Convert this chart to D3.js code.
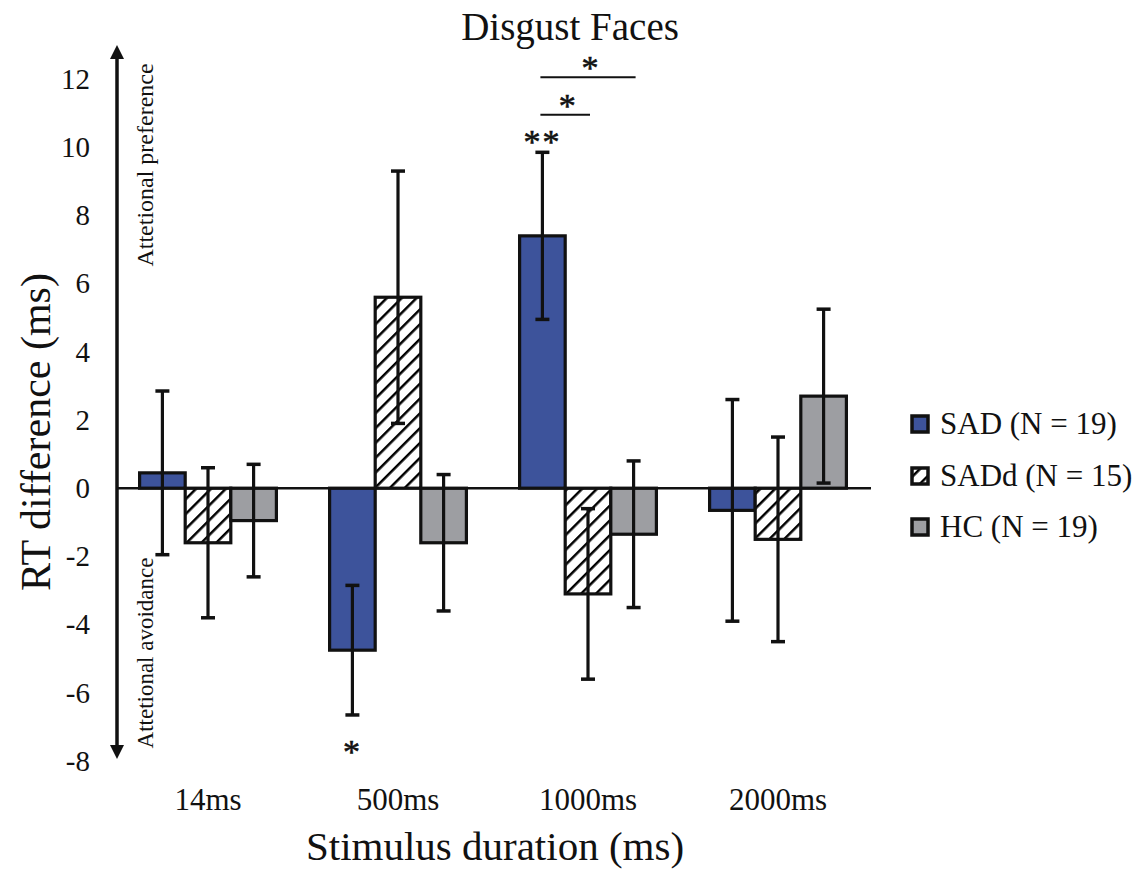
<!DOCTYPE html>
<html>
<head>
<meta charset="utf-8">
<script src="https://cdn.jsdelivr.net/npm/d3@7"></script>
<style>
  body { margin: 0; background: #fff; }
  text { font-family: "Liberation Serif", "Times New Roman", serif; fill: #111; }
</style>
</head>
<body>
<svg id="chart" width="1146" height="870"></svg>
<script>
// chart values
var categories = ['14ms', '500ms', '1000ms', '2000ms'];
var groups = ['SAD', 'SADd', 'HC'];
var groupLabels = ['SAD (N = 19)', 'SADd (N = 15)', 'HC (N = 19)'];
var sadMeans = [0.45, -4.75, 7.4, -0.65];
var sadddMeans = [-1.6, 5.6, -3.1, -1.5];
var hcMeans = [-0.95, -1.6, -1.35, 2.7];
var sadErr = [2.4, 1.9, 2.45, 3.25];
var saddErr = [2.2, 3.7, 2.5, 3.0];
var hcErr = [1.65, 2.0, 2.15, 2.55];
var yTicks = [-8, -6, -4, -2, 0, 2, 4, 6, 8, 10, 12];
// significance marks: [category, from group, to group, y value, label]
var sigBrackets = [
  ['1000ms', 0, 1, 10.95, '*'],
  ['1000ms', 0, 2, 12.05, '*']
];
// single stars: [category, group, y value, label]
var sigStars = [
  ['1000ms', 0, 10.25, '**'],
  ['500ms', 0, -7.65, '*']
];

var means = [sadMeans, sadddMeans, hcMeans];
var errs = [sadErr, saddErr, hcErr];
var data = [];
categories.forEach(function (c, ci) {
  groups.forEach(function (g, gi) {
    data.push({ cat: c, group: g, value: means[gi][ci], err: errs[gi][ci] });
  });
});

var svg = d3.select('#chart');
var colors = { SAD: '#3d539b', SADd: 'url(#hatch)', HC: '#9d9ea2' };

// hatch pattern for SADd
var defs = svg.append('defs');
var pat = defs.append('pattern')
  .attr('id', 'hatch')
  .attr('patternUnits', 'userSpaceOnUse')
  .attr('width', 10.5).attr('height', 10.5)
  .attr('patternTransform', 'rotate(45)');
pat.append('rect').attr('width', 10.5).attr('height', 10.5).attr('fill', '#fff');
pat.append('line')
  .attr('x1', 0).attr('y1', 0).attr('x2', 0).attr('y2', 10.5)
  .attr('stroke', '#000').attr('stroke-width', 5);

defs.append('marker')
  .attr('id', 'arrow')
  .attr('viewBox', '0 0 10 10')
  .attr('refX', 5).attr('refY', 5)
  .attr('markerWidth', 4).attr('markerHeight', 6)
  .attr('markerUnits', 'strokeWidth')
  .attr('orient', 'auto-start-reverse')
  .append('path')
  .attr('d', 'M0,0 L10,5 L0,10 Z')
  .attr('fill', '#111');

// scales
var yScale = d3.scaleLinear().domain([-8, 12]).range([761, 79]);
var xScale = d3.scaleBand().domain(categories).range([113, 873]).paddingInner(0.28).paddingOuter(0.14);
var xSub = d3.scaleBand().domain(groups).range([0, xScale.bandwidth()]);

function cx(cat, gi) {
  return xScale(cat) + xSub(groups[gi]) + xSub.bandwidth() / 2;
}

// title
svg.append('text')
  .attr('x', 570).attr('y', 40)
  .attr('text-anchor', 'middle')
  .style('font-size', '39px')
  .text('Disgust Faces');

// y axis with arrows
svg.append('line')
  .attr('x1', 117).attr('x2', 117)
  .attr('y1', 52).attr('y2', 752)
  .attr('stroke', '#111').attr('stroke-width', 3.5)
  .attr('marker-start', 'url(#arrow)')
  .attr('marker-end', 'url(#arrow)');

var yAxis = d3.axisLeft(yScale).tickValues(yTicks).tickSize(0).tickPadding(0)
  .tickFormat(function (d) { return String(d); });
var yAxisG = svg.append('g')
  .attr('transform', 'translate(90,0)')
  .call(yAxis);
yAxisG.select('.domain').remove();
yAxisG.selectAll('text')
  .style('font-size', '29px')
  .style('font-family', '"Liberation Serif", serif')
  .attr('fill', '#111');

// side notes
svg.append('text')
  .attr('transform', 'translate(153,165) rotate(-90)')
  .attr('text-anchor', 'middle')
  .style('font-size', '24px')
  .text('Attetional preference');
svg.append('text')
  .attr('transform', 'translate(153,653) rotate(-90)')
  .attr('text-anchor', 'middle')
  .style('font-size', '23px')
  .text('Attetional avoidance');

// y label
svg.append('text')
  .attr('transform', 'translate(50,432) rotate(-90)')
  .attr('text-anchor', 'middle')
  .style('font-size', '42px')
  .text('RT difference (ms)');

// x axis category labels
var xAxis = d3.axisBottom(xScale).tickSize(0).tickPadding(0);
var xAxisG = svg.append('g')
  .attr('transform', 'translate(0,788)')
  .call(xAxis);
xAxisG.select('.domain').remove();
xAxisG.selectAll('text')
  .style('font-size', '31px')
  .style('font-family', '"Liberation Serif", serif')
  .attr('fill', '#111');

svg.append('text')
  .attr('x', 495).attr('y', 860)
  .attr('text-anchor', 'middle')
  .style('font-size', '41px')
  .text('Stimulus duration (ms)');

// bars
var plot = svg.append('g');
plot.selectAll('.bar')
  .data(data).enter()
  .append('rect')
  .attr('class', 'bar')
  .attr('x', function (d) { return xScale(d.cat) + xSub(d.group); })
  .attr('width', xSub.bandwidth())
  .attr('y', function (d) { return yScale(Math.max(0, d.value)); })
  .attr('height', function (d) { return Math.abs(yScale(d.value) - yScale(0)); })
  .attr('fill', function (d) { return colors[d.group]; })
  .attr('stroke', '#111')
  .attr('stroke-width', 3.2);

// zero line
svg.append('line')
  .attr('x1', 117).attr('x2', 871)
  .attr('y1', yScale(0)).attr('y2', yScale(0))
  .attr('stroke', '#111').attr('stroke-width', 2.5);

// error bars
var eb = plot.selectAll('.err')
  .data(data).enter()
  .append('g')
  .attr('class', 'err');
eb.append('line')
  .attr('x1', function (d) { return xScale(d.cat) + xSub(d.group) + xSub.bandwidth() / 2; })
  .attr('x2', function (d) { return xScale(d.cat) + xSub(d.group) + xSub.bandwidth() / 2; })
  .attr('y1', function (d) { return yScale(d.value + d.err); })
  .attr('y2', function (d) { return yScale(d.value - d.err); })
  .attr('stroke', '#111').attr('stroke-width', 3.2);
[1, -1].forEach(function (s) {
  eb.append('line')
    .attr('x1', function (d) { return xScale(d.cat) + xSub(d.group) + xSub.bandwidth() / 2 - 7; })
    .attr('x2', function (d) { return xScale(d.cat) + xSub(d.group) + xSub.bandwidth() / 2 + 7; })
    .attr('y1', function (d) { return yScale(d.value + s * d.err); })
    .attr('y2', function (d) { return yScale(d.value + s * d.err); })
    .attr('stroke', '#111').attr('stroke-width', 3.5);
});

// significance brackets
sigBrackets.forEach(function (b) {
  var x1 = cx(b[0], b[1]), x2 = cx(b[0], b[2]);
  svg.append('line')
    .attr('x1', x1 - 2).attr('x2', x2 + 2)
    .attr('y1', yScale(b[3])).attr('y2', yScale(b[3]))
    .attr('stroke', '#111').attr('stroke-width', 2);
  svg.append('text')
    .attr('x', (x1 + x2) / 2 + 2).attr('y', yScale(b[3]) + 2)
    .attr('text-anchor', 'middle')
    .style('font-size', '34px')
    .style('stroke', '#111').style('stroke-width', 0.6)
    .text(b[4]);
});
sigStars.forEach(function (s) {
  svg.append('text')
    .attr('x', cx(s[0], s[1])).attr('y', yScale(s[2]) + 14)
    .attr('text-anchor', 'middle')
    .style('font-size', '34px')
    .style('stroke', '#111').style('stroke-width', 0.6)
    .style('letter-spacing', '2px')
    .text(s[3]);
});

// legend
var legend = svg.append('g').attr('transform', 'translate(912,0)');
var legendY = [424, 476, 527];
legend.selectAll('rect')
  .data(groups).enter()
  .append('rect')
  .attr('x', 0)
  .attr('y', function (d, i) { return legendY[i] - 8; })
  .attr('width', 16).attr('height', 16)
  .attr('fill', function (d) { return colors[d]; })
  .attr('stroke', '#111').attr('stroke-width', 3.5);
legend.selectAll('text')
  .data(groupLabels).enter()
  .append('text')
  .attr('x', 28)
  .attr('y', function (d, i) { return legendY[i] + 10; })
  .style('font-size', '31px')
  .text(function (d) { return d; });
</script>
</body>
</html>
